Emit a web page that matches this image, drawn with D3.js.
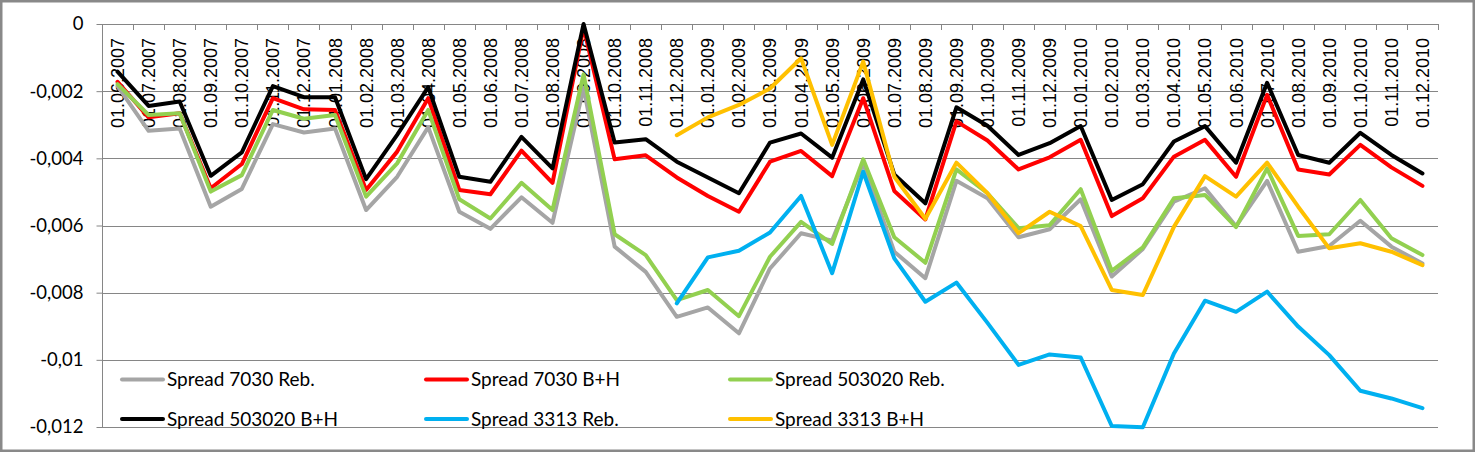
<!DOCTYPE html>
<html>
<head>
<meta charset="utf-8">
<script src="https://cdn.jsdelivr.net/npm/d3@7"></script>
<style>
  html, body { margin: 0; padding: 0; background: #fff; }
  svg { display: block; }
</style>
</head>
<body>
<div id="chart"></div>
<script>
const categories = [
  "01.06.2007","01.07.2007","01.08.2007","01.09.2007","01.10.2007","01.11.2007","01.12.2007",
  "01.01.2008","01.02.2008","01.03.2008","01.04.2008","01.05.2008","01.06.2008","01.07.2008",
  "01.08.2008","01.09.2008","01.10.2008","01.11.2008","01.12.2008",
  "01.01.2009","01.02.2009","01.03.2009","01.04.2009","01.05.2009","01.06.2009","01.07.2009",
  "01.08.2009","01.09.2009","01.10.2009","01.11.2009","01.12.2009",
  "01.01.2010","01.02.2010","01.03.2010","01.04.2010","01.05.2010","01.06.2010","01.07.2010",
  "01.08.2010","01.09.2010","01.10.2010","01.11.2010","01.12.2010"
];

const spread7030Reb = [-0.00185,-0.00318,-0.00311,-0.00544,-0.00491,-0.00298,-0.00323,-0.00311,-0.00554,-0.00455,
  -0.00307,-0.00559,-0.00610,-0.00516,-0.00592,-0.00190,-0.00663,-0.00738,-0.00872,-0.00844,
  -0.00921,-0.00728,-0.00623,-0.00645,-0.00415,-0.00678,-0.00757,-0.00467,-0.00519,-0.00635,
  -0.00611,-0.00522,-0.00752,-0.00670,-0.00529,-0.00489,-0.00602,-0.00467,-0.00678,-0.00661,
  -0.00586,-0.00663,-0.00713];

const spread7030BH = [-0.00172,-0.00278,-0.00266,-0.00489,-0.00417,-0.00221,-0.00254,-0.00256,-0.00494,-0.00380,
  -0.00221,-0.00494,-0.00507,-0.00377,-0.00473,-0.00010,-0.00403,-0.00391,-0.00457,-0.00512,
  -0.00559,-0.00410,-0.00378,-0.00453,-0.00221,-0.00497,-0.00582,-0.00290,-0.00347,-0.00433,
  -0.00397,-0.00345,-0.00572,-0.00519,-0.00395,-0.00345,-0.00455,-0.00211,-0.00433,-0.00448,
  -0.00360,-0.00427,-0.00482];

const spread503020Reb = [-0.00179,-0.00271,-0.00266,-0.00499,-0.00450,-0.00256,-0.00282,-0.00271,-0.00514,-0.00415,
  -0.00256,-0.00522,-0.00579,-0.00473,-0.00554,-0.00150,-0.00626,-0.00688,-0.00822,-0.00792,
  -0.00870,-0.00693,-0.00589,-0.00655,-0.00403,-0.00635,-0.00711,-0.00433,-0.00504,-0.00608,
  -0.00599,-0.00492,-0.00735,-0.00665,-0.00519,-0.00509,-0.00605,-0.00430,-0.00631,-0.00626,
  -0.00524,-0.00638,-0.00688];

const spread503020BH = [-0.00142,-0.00244,-0.00231,-0.00452,-0.00382,-0.00185,-0.00218,-0.00218,-0.00462,-0.00330,
  -0.00188,-0.00455,-0.00470,-0.00336,-0.00430,0.00000,-0.00353,-0.00343,-0.00410,-0.00457,
  -0.00504,-0.00353,-0.00326,-0.00398,-0.00165,-0.00448,-0.00534,-0.00248,-0.00303,-0.00390,
  -0.00355,-0.00304,-0.00524,-0.00477,-0.00350,-0.00304,-0.00413,-0.00175,-0.00390,-0.00413,
  -0.00324,-0.00390,-0.00445];

const spread3313Reb = [null,null,null,null,null,null,null,null,null,null,
  null,null,null,null,null,null,null,null,
  -0.00832,-0.00695,-0.00675,-0.00621,-0.00512,-0.00742,-0.00440,-0.00698,-0.00827,-0.00770,
  -0.00890,-0.01015,-0.00984,-0.00993,-0.01197,-0.01201,-0.00981,-0.00824,-0.00857,-0.00797,
  -0.00901,-0.00986,-0.01092,-0.01115,-0.01144];

const spread3313BH = [null,null,null,null,null,null,null,null,null,null,
  null,null,null,null,null,null,null,null,
  -0.00331,-0.00278,-0.00241,-0.00192,-0.00102,-0.00360,-0.00112,-0.00455,-0.00580,-0.00413,
  -0.00504,-0.00623,-0.00559,-0.00602,-0.00792,-0.00807,-0.00604,-0.00453,-0.00514,-0.00413,
  -0.00544,-0.00668,-0.00653,-0.00678,-0.00718];

const seriesNames = ["Spread 7030 Reb.","Spread 7030 B+H","Spread 503020 Reb.","Spread 503020 B+H","Spread 3313 Reb.","Spread 3313 B+H"];
const seriesColors = ["#A5A5A5","#FF0000","#92D050","#000000","#00B0F0","#FFC000"];
const seriesValues = [spread7030Reb, spread7030BH, spread503020Reb, spread503020BH, spread3313Reb, spread3313BH];

const yTicks = [0,-0.002,-0.004,-0.006,-0.008,-0.01,-0.012];
const yTickLabels = ["0","-0,002","-0,004","-0,006","-0,008","-0,01","-0,012"];

const W = 1476, H = 452;
const plot = {left: 102, right: 1438, top: 24, bottom: 427};

const svg = d3.select("#chart").append("svg").attr("width", W).attr("height", H);

svg.append("rect").attr("x", 0).attr("y", 0).attr("width", W).attr("height", H).attr("fill", "#fff");
svg.append("rect").attr("x", 1.25).attr("y", 1.25).attr("width", W - 3.5).attr("height", H - 2.5)
  .attr("fill", "none").attr("stroke", "#898989").attr("stroke-width", 2.5);

const x = d3.scaleBand().domain(categories).range([plot.left, plot.right]).padding(0);
const y = d3.scaleLinear().domain([-0.012, 0]).range([plot.bottom, plot.top]);

const gridColor = "#868686";

// gridlines
svg.append("g").selectAll("line").data(yTicks).join("line")
  .attr("x1", plot.left).attr("x2", plot.right)
  .attr("y1", d => Math.round(y(d)) + 0.5).attr("y2", d => Math.round(y(d)) + 0.5)
  .attr("stroke", gridColor).attr("stroke-width", 1);

// y axis
const yAxis = d3.axisLeft(y).tickValues(yTicks).tickSize(6).tickPadding(13)
  .tickFormat((d, i) => yTickLabels[i]);
const gy = svg.append("g").attr("transform", `translate(${plot.left + 0.5},0)`).call(yAxis);
gy.select(".domain").attr("stroke", gridColor).attr("d", `M0,${plot.top}V${plot.bottom}`);
gy.selectAll(".tick line").attr("stroke", gridColor);
gy.selectAll(".tick text").attr("font-family", "Lato, 'Open Sans', sans-serif")
  .attr("font-size", "18.5px").attr("fill", "#000");

// category axis at y = 0 (top), ticks pointing down at band boundaries
const boundaries = categories.map(c => x(c)).concat([plot.right]);
svg.append("g").selectAll("line").data(boundaries).join("line")
  .attr("x1", d => Math.round(d) + 0.5).attr("x2", d => Math.round(d) + 0.5)
  .attr("y1", y(0)).attr("y2", y(0) + 6)
  .attr("stroke", gridColor).attr("stroke-width", 1);

svg.append("g").selectAll("text").data(categories).join("text")
  .attr("transform", d => `translate(${x(d) + x.bandwidth() / 2},${y(0) + 14}) rotate(-90)`)
  .attr("text-anchor", "end").attr("dy", "0.36em")
  .attr("font-family", "'Liberation Sans', Arial, sans-serif").attr("font-size", "18px")
  .attr("fill", "#000").text(d => d);

// series lines
const line = d3.line()
  .defined(d => d.v !== null)
  .x(d => x(d.c) + x.bandwidth() / 2)
  .y(d => y(d.v));

seriesValues.forEach((vals, si) => {
  const pts = vals.map((v, i) => ({c: categories[i], v: v}));
  svg.append("path").datum(pts)
    .attr("d", line)
    .attr("fill", "none")
    .attr("stroke", seriesColors[si])
    .attr("stroke-width", 4)
    .attr("stroke-linejoin", "round")
    .attr("stroke-linecap", "round");
});

// legend
const legendCols = [122, 426, 730];
const legendRows = [379.5, 419];
const lg = svg.append("g");
seriesNames.forEach((name, i) => {
  const cx = legendCols[i % 3], cy = legendRows[Math.floor(i / 3)];
  lg.append("line").attr("x1", cx).attr("x2", cx + 41).attr("y1", cy).attr("y2", cy)
    .attr("stroke", seriesColors[i]).attr("stroke-width", 4).attr("stroke-linecap", "round");
  lg.append("text").attr("x", cx + 45).attr("y", cy).attr("dy", "0.36em")
    .attr("font-family", "Lato, 'Open Sans', sans-serif").attr("font-size", "19px")
    .attr("fill", "#000").text(name);
});
</script>
</body>
</html>
